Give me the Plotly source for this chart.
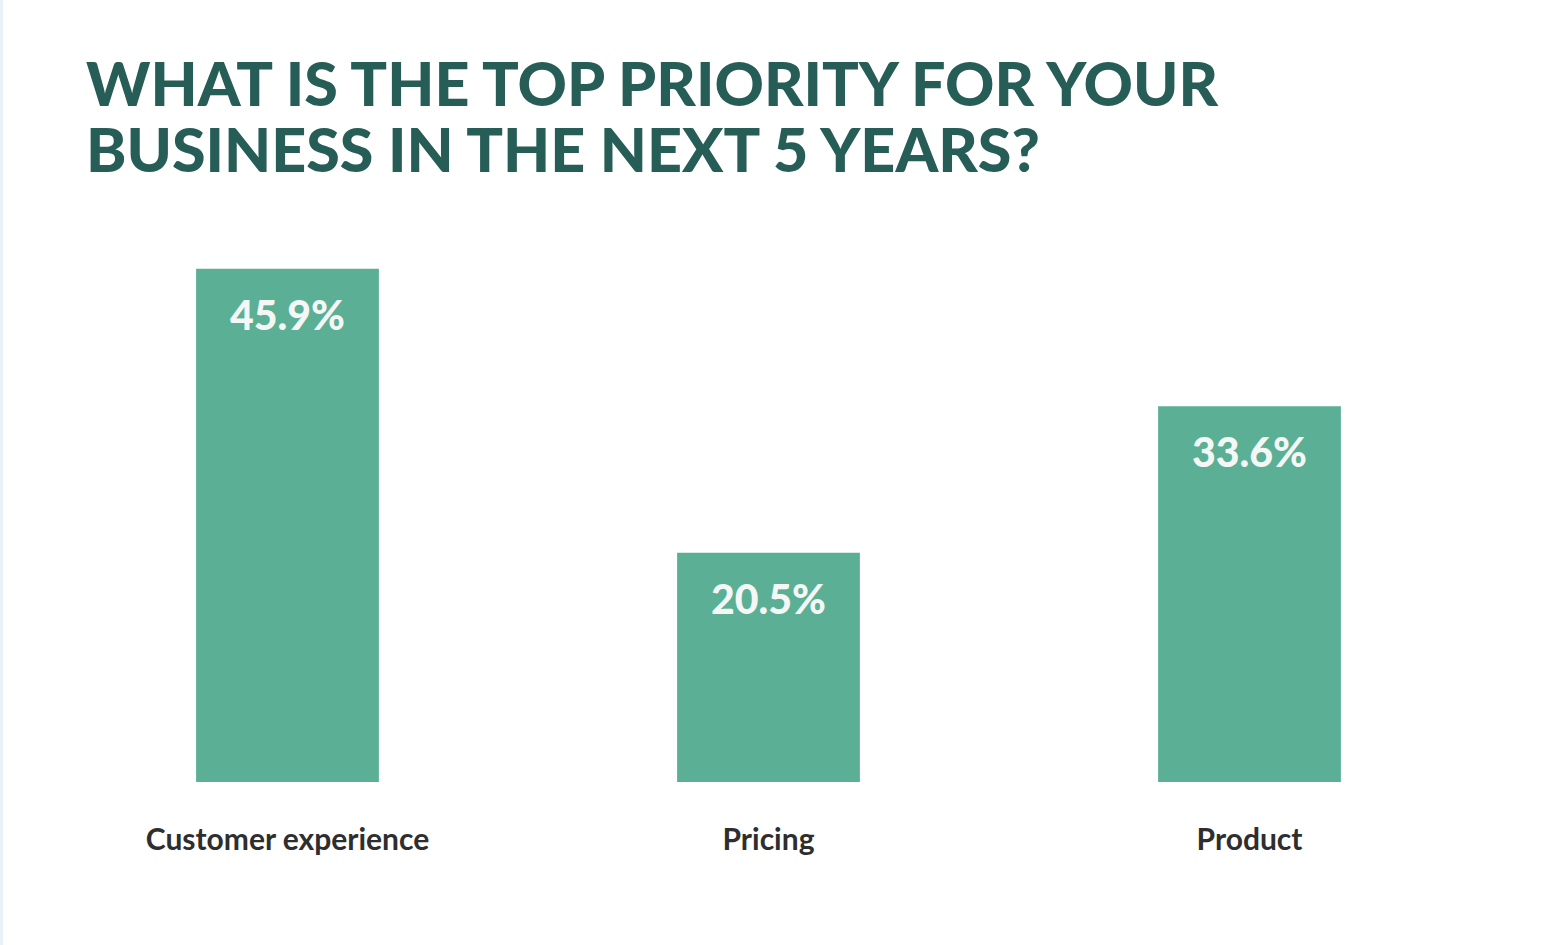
import plotly.graph_objects as go

categories = ["Customer experience", "Pricing", "Product"]
values = [45.9, 20.5, 33.6]
value_labels = ["45.9%", "20.5%", "33.6%"]
title_lines = ["WHAT IS THE TOP PRIORITY FOR YOUR", "BUSINESS IN THE NEXT 5 YEARS?"]

BAR = "#5AAF94"
TITLE = "#265D56"
LABEL = "#2E2E2E"

W, H = 1554, 945
ML, MR, MT, MB = 47, 64, 223, 163

fig = go.Figure(go.Bar(x=categories, y=values, marker=dict(color=BAR, line=dict(width=0)),
                       hoverinfo="skip"))

for c, v, t in zip(categories, values, value_labels):
    fig.add_annotation(x=c, y=v, xref="x", yref="y", text=t, showarrow=False,
                       yanchor="top", yshift=-19,
                       font=dict(family="Lato", size=41, color="#F4F7F5", weight=900))

for i, line in enumerate(title_lines):
    fig.add_annotation(xref="paper", yref="paper", x=(84 - ML) / (W - ML - MR), xanchor="left",
                       y=1, yanchor="middle", yshift=(223 - 82) - i * 66,
                       text=line, showarrow=False,
                       font=dict(family="Lato", size=61, color=TITLE, weight=900))

fig.add_shape(type="rect", xref="paper", yref="paper", xsizemode="pixel", xanchor=0,
              x0=-ML, x1=-ML + 3, y0=-1, y1=2, fillcolor="#E6F2F6", line=dict(width=0), layer="below")

fig.update_layout(
    width=W, height=H,
    margin=dict(l=ML, r=MR, t=MT, b=MB, pad=0),
    paper_bgcolor="white", plot_bgcolor="white",
    bargap=0.62, showlegend=False,
    xaxis=dict(showgrid=False, showline=False, zeroline=False, ticks="",
               ticklabelstandoff=37,
               tickfont=dict(family="Lato", size=30, color=LABEL, weight=700)),
    yaxis=dict(range=[0, 50], visible=False, showgrid=False, zeroline=False),
)

fig.write_html("out.html", config={"displayModeBar": False})
